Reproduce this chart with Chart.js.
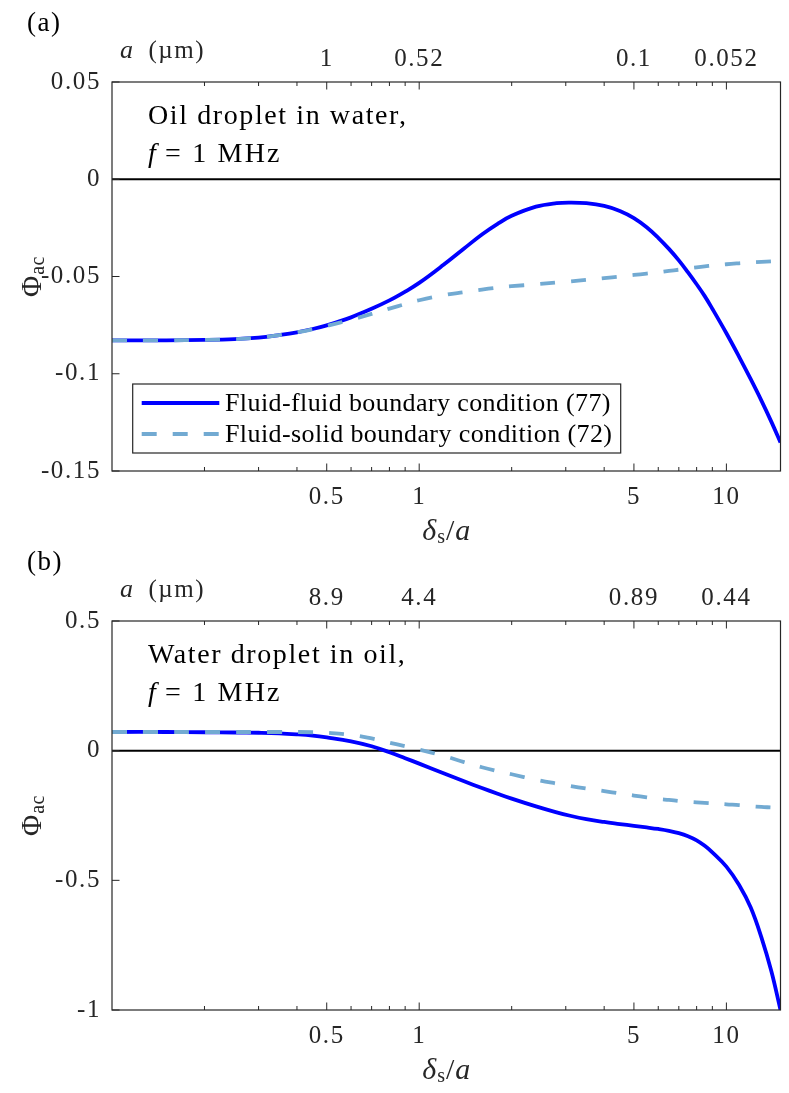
<!DOCTYPE html>
<html>
<head>
<meta charset="utf-8">
<script src="https://cdn.jsdelivr.net/npm/chart.js@4.4.1/dist/chart.umd.min.js"></script>
<style>
  html, body { margin: 0; padding: 0; background: #fff; }
  canvas { display: block; }
</style>
</head>
<body>
<canvas id="panelA" width="789" height="546"></canvas>
<canvas id="panelB" width="789" height="547"></canvas>
<script>
// delta_s / a sample points (shared by both panels)
const deltaOverA = [0.1, 0.15, 0.2, 0.25, 0.3, 0.35, 0.4, 0.45, 0.5, 0.6, 0.7, 0.8, 0.9, 1.0,
  1.2, 1.4, 1.6, 1.8, 2.0, 2.4, 2.8, 3.1, 3.5, 4.0, 4.5, 5.0, 5.5, 6.0, 6.5, 7.0, 7.5, 8.0,
  8.5, 9.0, 10, 11, 12, 13, 14, 15];

// (a) oil droplet in water
const phiFluidA = [-0.0828, -0.0828, -0.0826, -0.0822, -0.0814, -0.0801, -0.0787, -0.0770, -0.0751,
  -0.0710, -0.0666, -0.0623, -0.0578, -0.0533, -0.0440, -0.0356, -0.0284, -0.0229, -0.0188,
  -0.0141, -0.0123, -0.0120, -0.0123, -0.0137, -0.0163, -0.0200, -0.0247, -0.0301, -0.0358,
  -0.0417, -0.0479, -0.0540, -0.0601, -0.0666, -0.0792, -0.0913, -0.1028, -0.1138, -0.1246, -0.1353];
const phiSolidA = [-0.0828, -0.0828, -0.0826, -0.0822, -0.0814, -0.0801, -0.0787, -0.0771, -0.0754,
  -0.0722, -0.0692, -0.0665, -0.0642, -0.0622, -0.0596, -0.0580, -0.0567, -0.0557, -0.0550,
  -0.0540, -0.0531, -0.0525, -0.0517, -0.0508, -0.0500, -0.0492, -0.0485, -0.0478, -0.0471,
  -0.0465, -0.0459, -0.0453, -0.0448, -0.0444, -0.0437, -0.0432, -0.0428, -0.0425, -0.0422, -0.0420];

// (b) water droplet in oil
const phiFluidB = [0.072, 0.072, 0.071, 0.070, 0.069, 0.067, 0.063, 0.058, 0.051, 0.036, 0.017,
  -0.006, -0.029, -0.050, -0.087, -0.118, -0.144, -0.166, -0.185, -0.215, -0.238, -0.251,
  -0.264, -0.275, -0.283, -0.290, -0.296, -0.302, -0.309, -0.318, -0.330, -0.346, -0.367,
  -0.392, -0.447, -0.518, -0.605, -0.720, -0.850, -1.0];
const phiSolidB = [0.072, 0.072, 0.072, 0.072, 0.072, 0.072, 0.072, 0.071, 0.069, 0.061, 0.047,
  0.031, 0.017, 0.004, -0.020, -0.044, -0.064, -0.079, -0.091, -0.112, -0.127, -0.136,
  -0.146, -0.156, -0.165, -0.173, -0.180, -0.186, -0.190, -0.194, -0.197, -0.199, -0.201,
  -0.203, -0.207, -0.210, -0.214, -0.217, -0.219, -0.221];

// ticks
const majorTicks = [0.5, 1, 5, 10];
const minorTicks = [0.2, 0.3, 0.4, 0.6, 0.7, 0.8, 0.9, 2, 3, 4, 6, 7, 8, 9];
const bottomLabels = ['0.5', '1', '5', '10'];
const topLabelsA = ['1', '0.52', '0.1', '0.052'];
const topLabelsB = ['8.9', '4.4', '0.89', '0.44'];
const yTicksA = [-0.15, -0.1, -0.05, 0, 0.05];
const yLabelsA = ['-0.15', '-0.1', '-0.05', '0', '0.05'];
const yTicksB = [-1, -0.5, 0, 0.5];
const yLabelsB = ['-1', '-0.5', '0', '0.5'];

const legendLabels = ['Fluid-fluid boundary condition (77)', 'Fluid-solid boundary condition (72)'];

const SERIF = '"Liberation Serif", "Times New Roman", serif';
const AXIS = '#262626';
const BLUE = '#0000ff';
const LIGHT = '#72aad2';
const DASH = [15, 16];

function font(size, italic) {
  return (italic ? 'italic ' : '') + size + 'px ' + SERIF;
}

// draw a run of text pieces (italic / subscript) one after another
function drawRich(ctx, parts, x, y, align) {
  let w = 0;
  parts.forEach(p => {
    ctx.font = font(p.size, p.italic);
    ctx.letterSpacing = (p.ls || 0) + 'px';
    p.w = ctx.measureText(p.t).width;
    w += p.w;
  });
  let cx = align === 'center' ? x - w / 2 : x;
  ctx.textAlign = 'left';
  ctx.textBaseline = 'middle';
  parts.forEach(p => {
    ctx.font = font(p.size, p.italic);
    ctx.letterSpacing = (p.ls || 0) + 'px';
    ctx.fillText(p.t, cx, y + (p.dy || 0));
    cx += p.w;
  });
  ctx.letterSpacing = '0px';
}

function decor(p) {
  return {
    id: 'decor',
    beforeDraw(chart) {
      // wider tick labels, closer to the original typeface
      chart.ctx.letterSpacing = '1.6px';
    },
    beforeDatasetsDraw(chart) {
      const { ctx, chartArea: a, scales } = chart;
      ctx.save();
      ctx.letterSpacing = '0px';
      const y0 = scales.y.getPixelForValue(0);
      ctx.strokeStyle = '#000';
      ctx.lineWidth = 2;
      ctx.beginPath();
      ctx.moveTo(a.left, y0);
      ctx.lineTo(a.right, y0);
      ctx.stroke();
      ctx.restore();
    },
    afterDatasetsDraw(chart) {
      const { ctx, chartArea: a, scales } = chart;
      ctx.save();
      ctx.strokeStyle = AXIS;
      ctx.lineWidth = 1.2;
      ctx.strokeRect(a.left, a.top, a.right - a.left, a.bottom - a.top);
      ctx.lineWidth = 1;
      ctx.beginPath();
      const tick = (v, len) => {
        const x = scales.x.getPixelForValue(v);
        ctx.moveTo(x, a.bottom); ctx.lineTo(x, a.bottom - len);
        ctx.moveTo(x, a.top); ctx.lineTo(x, a.top + len);
      };
      majorTicks.forEach(v => tick(v, 7.5));
      minorTicks.forEach(v => tick(v, 4));
      p.yTicks.forEach(v => {
        const y = scales.y.getPixelForValue(v);
        ctx.moveTo(a.left, y); ctx.lineTo(a.left + 7.5, y);
      });
      ctx.stroke();
      ctx.restore();
    },
    afterDraw(chart) {
      const { ctx, chartArea: a } = chart;
      ctx.save();
      ctx.fillStyle = '#000';
      drawRich(ctx, [{ t: p.tag, size: 27, ls: 1.5 }], 27, a.top - 58, 'left');
      ctx.fillStyle = AXIS;
      drawRich(ctx, [{ t: 'a', size: 26, italic: true }, { t: '  (\u00b5m)', size: 25, ls: 1.5 }], 120, a.top - 31, 'left');
      ctx.fillStyle = '#000';
      drawRich(ctx, [{ t: p.note, size: 28, ls: 1.6 }], 148, a.top + 35, 'left');
      drawRich(ctx, [{ t: 'f', size: 28, italic: true }, { t: ' = 1 MHz', size: 28, ls: 2.2 }], 148, a.top + 73, 'left');
      ctx.fillStyle = AXIS;
      drawRich(ctx, [
        { t: '\u03b4', size: 30, italic: true, ls: 1 },
        { t: 's', size: 20, dy: 6, ls: 1 },
        { t: '/', size: 30, ls: 1 },
        { t: 'a', size: 30, italic: true }
      ], (a.left + a.right) / 2, a.bottom + 61, 'center');
      ctx.translate(33, (a.top + a.bottom) / 2);
      ctx.rotate(-Math.PI / 2);
      drawRich(ctx, [{ t: '\u03a6', size: 29, ls: 1 }, { t: 'ac', size: 20, dy: 6, ls: 0.5 }], 0, 0, 'center');
      ctx.restore();

      if (p.legend) {
        const bx = 132.7, by = a.top + 302, bw = 488, bh = 69;
        ctx.save();
        ctx.fillStyle = '#fff';
        ctx.fillRect(bx, by, bw, bh);
        ctx.strokeStyle = AXIS;
        ctx.lineWidth = 1.2;
        ctx.strokeRect(bx, by, bw, bh);
        const rows = [by + 19, by + 50];
        ctx.lineWidth = 3.8;
        ctx.strokeStyle = BLUE;
        ctx.beginPath(); ctx.moveTo(141.7, rows[0]); ctx.lineTo(219.3, rows[0]); ctx.stroke();
        ctx.strokeStyle = LIGHT;
        ctx.setLineDash(DASH);
        ctx.beginPath(); ctx.moveTo(141.7, rows[1]); ctx.lineTo(219.3, rows[1]); ctx.stroke();
        ctx.setLineDash([]);
        ctx.fillStyle = '#000';
        legendLabels.forEach((t, i) => drawRich(ctx, [{ t, size: 26, ls: 0.4 }], 225, rows[i] + 1, 'left'));
        ctx.restore();
      }
    }
  };
}

function makePanel(id, p) {
  const pts = ys => deltaOverA.map((x, i) => ({ x, y: ys[i] }));
  const tickFont = { family: SERIF, size: 25 };
  new Chart(document.getElementById(id), {
    type: 'line',
    data: {
      datasets: [
        { label: legendLabels[0], data: pts(p.fluid), borderColor: BLUE, borderWidth: 3.8,
          pointRadius: 0, tension: 0.4, order: 2 },
        { label: legendLabels[1], data: pts(p.solid), borderColor: LIGHT, borderWidth: 3.8,
          borderDash: DASH, pointRadius: 0, tension: 0.4, order: 1 }
      ]
    },
    options: {
      responsive: false,
      animation: false,
      layout: { padding: { left: 0, right: 8.5, top: 0, bottom: 0 } },
      plugins: { legend: { display: false }, tooltip: { enabled: false } },
      scales: {
        x: {
          type: 'logarithmic', position: 'bottom', min: 0.1, max: 15,
          grid: { display: false, drawTicks: false }, border: { display: false },
          afterBuildTicks: s => { s.ticks = majorTicks.map(v => ({ value: v })); },
          afterFit: s => { s.height = p.bottomH; },
          ticks: { autoSkip: false, maxRotation: 0, padding: 11, color: AXIS, font: tickFont,
            callback: (v, i) => bottomLabels[i] }
        },
        x2: {
          type: 'logarithmic', position: 'top', min: 0.1, max: 15,
          grid: { display: false, drawTicks: false }, border: { display: false },
          afterBuildTicks: s => { s.ticks = majorTicks.map(v => ({ value: v })); },
          afterFit: s => { s.height = p.topH; },
          ticks: { autoSkip: false, maxRotation: 0, padding: 8, color: AXIS, font: tickFont,
            callback: (v, i) => p.topLabels[i] }
        },
        y: {
          type: 'linear', position: 'left', min: p.yTicks[0], max: p.yTicks[p.yTicks.length - 1],
          grid: { display: false, drawTicks: false }, border: { display: false },
          afterBuildTicks: s => { s.ticks = p.yTicks.map(v => ({ value: v })); },
          afterFit: s => { s.width = 112; },
          ticks: { autoSkip: false, padding: 11, color: AXIS, font: tickFont,
            callback: (v, i) => p.yLabels[i] }
        }
      }
    },
    plugins: [decor(p)]
  });
}

makePanel('panelA', {
  tag: '(a)', note: 'Oil droplet in water,', legend: true,
  fluid: phiFluidA, solid: phiSolidA, topLabels: topLabelsA,
  yTicks: yTicksA, yLabels: yLabelsA, topH: 82, bottomH: 75
});
makePanel('panelB', {
  tag: '(b)', note: 'Water droplet in oil,', legend: false,
  fluid: phiFluidB, solid: phiSolidB, topLabels: topLabelsB,
  yTicks: yTicksB, yLabels: yLabelsB, topH: 75, bottomH: 83
});
</script>
</body>
</html>
